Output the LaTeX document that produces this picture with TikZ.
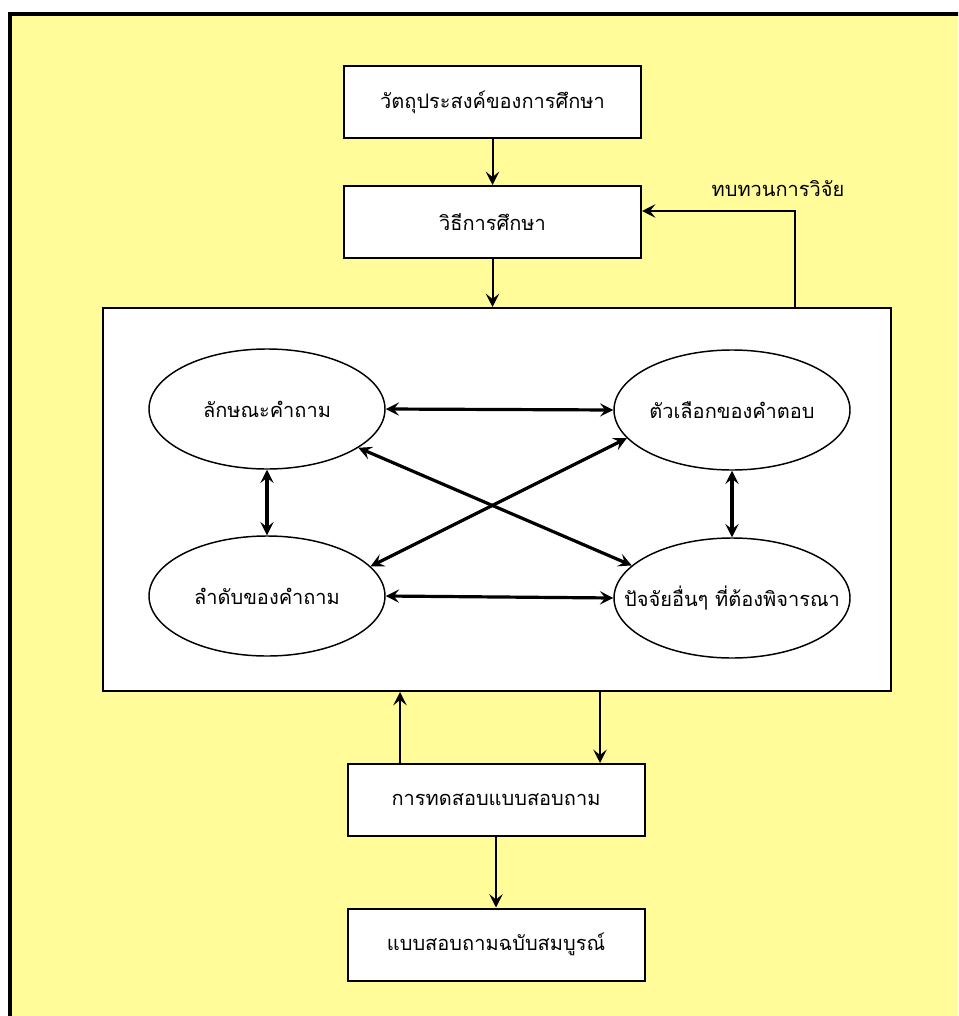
\documentclass[tikz,border=0pt]{standalone}
\usepackage{fontspec}
\newfontfamily\thaifont[Script=Thai]{Loma}
\usetikzlibrary{shapes.geometric,arrows.meta}
\definecolor{bgyellow}{RGB}{255,252,153}
\begin{document}
\begin{tikzpicture}[x=0.75pt,y=-0.75pt,
  font=\thaifont\fontsize{15}{17}\selectfont,
  stepbox/.style={draw=black,line width=1.5pt,fill=white,minimum width=222.75pt,minimum height=54pt,inner sep=0pt},
  oval/.style={ellipse,draw=black,line width=1.1pt,fill=white,minimum width=177pt,minimum height=90pt,inner sep=-40pt},
  thin/.style={line width=1.5pt,-{Stealth[length=10pt,width=10pt,inset=4pt]}},
  thick/.style={line width=2.4pt,{Stealth[length=10pt,width=10pt,inset=4pt]}-{Stealth[length=10pt,width=10pt,inset=4pt]}}]
\useasboundingbox (0,0) rectangle (958,1016);
\clip (0,0) rectangle (958,1016);
\fill[bgyellow] (10,14.5) rectangle (1000,1060);
\draw[line width=3pt] (10,1060) -- (10,14.5) -- (1000,14.5);
\node[stepbox] (b1) at (492.5,102) {วัตถุประสงค์ของการศึกษา};
\node[stepbox] (b2) at (492.5,222) {วิธีการศึกษา};
\node[draw=black,line width=1.5pt,fill=white,minimum width=591pt,minimum height=287.25pt,inner sep=0pt] (big) at (497,499.5) {};
\node[stepbox] (b3) at (496,800) {การทดสอบแบบสอบถาม};
\node[stepbox] (b4) at (496,944.5) {แบบสอบถามฉบับสมบูรณ์};
\node[oval] (e1) at (267,409) {ลักษณะคำถาม};
\node[oval] (e2) at (732,410) {ตัวเลือกของคำตอบ};
\node[oval] (e3) at (267,596) {ลำดับของคำถาม};
\node[oval] (e4) at (732,598) {ปัจจัยอื่นๆ ที่ต้องพิจารณา};
\node (lbl) at (778,189) {ทบทวนการวิจัย};
\coordinate (fb) at (795,211);
\coordinate (cl) at (400,0);
\coordinate (cr) at (600,0);
\draw[thin] (b1.south) -- (b2.north);
\draw[thin] (b2.south) -- (big.north -| b2.south);
\draw[thin] (big.north -| fb) -- (fb) -- (fb -| b2.east);
\draw[thin] (b3.north -| cl) -- (big.south -| cl);
\draw[thin] (big.south -| cr) -- (b3.north -| cr);
\draw[thin] (b3.south) -- (b4.north);
\draw[thick] (e1.east) -- (e2.west);
\draw[thick] (e3.east) -- (e4.west);
\draw[thick] (e1.south) -- (e3.north);
\draw[thick] (e2.south) -- (e4.north);
\draw[thick] (e1.-23) -- (e4.162);
\draw[thick] (e2.195) -- (e3.16);
\end{tikzpicture}
\end{document}
